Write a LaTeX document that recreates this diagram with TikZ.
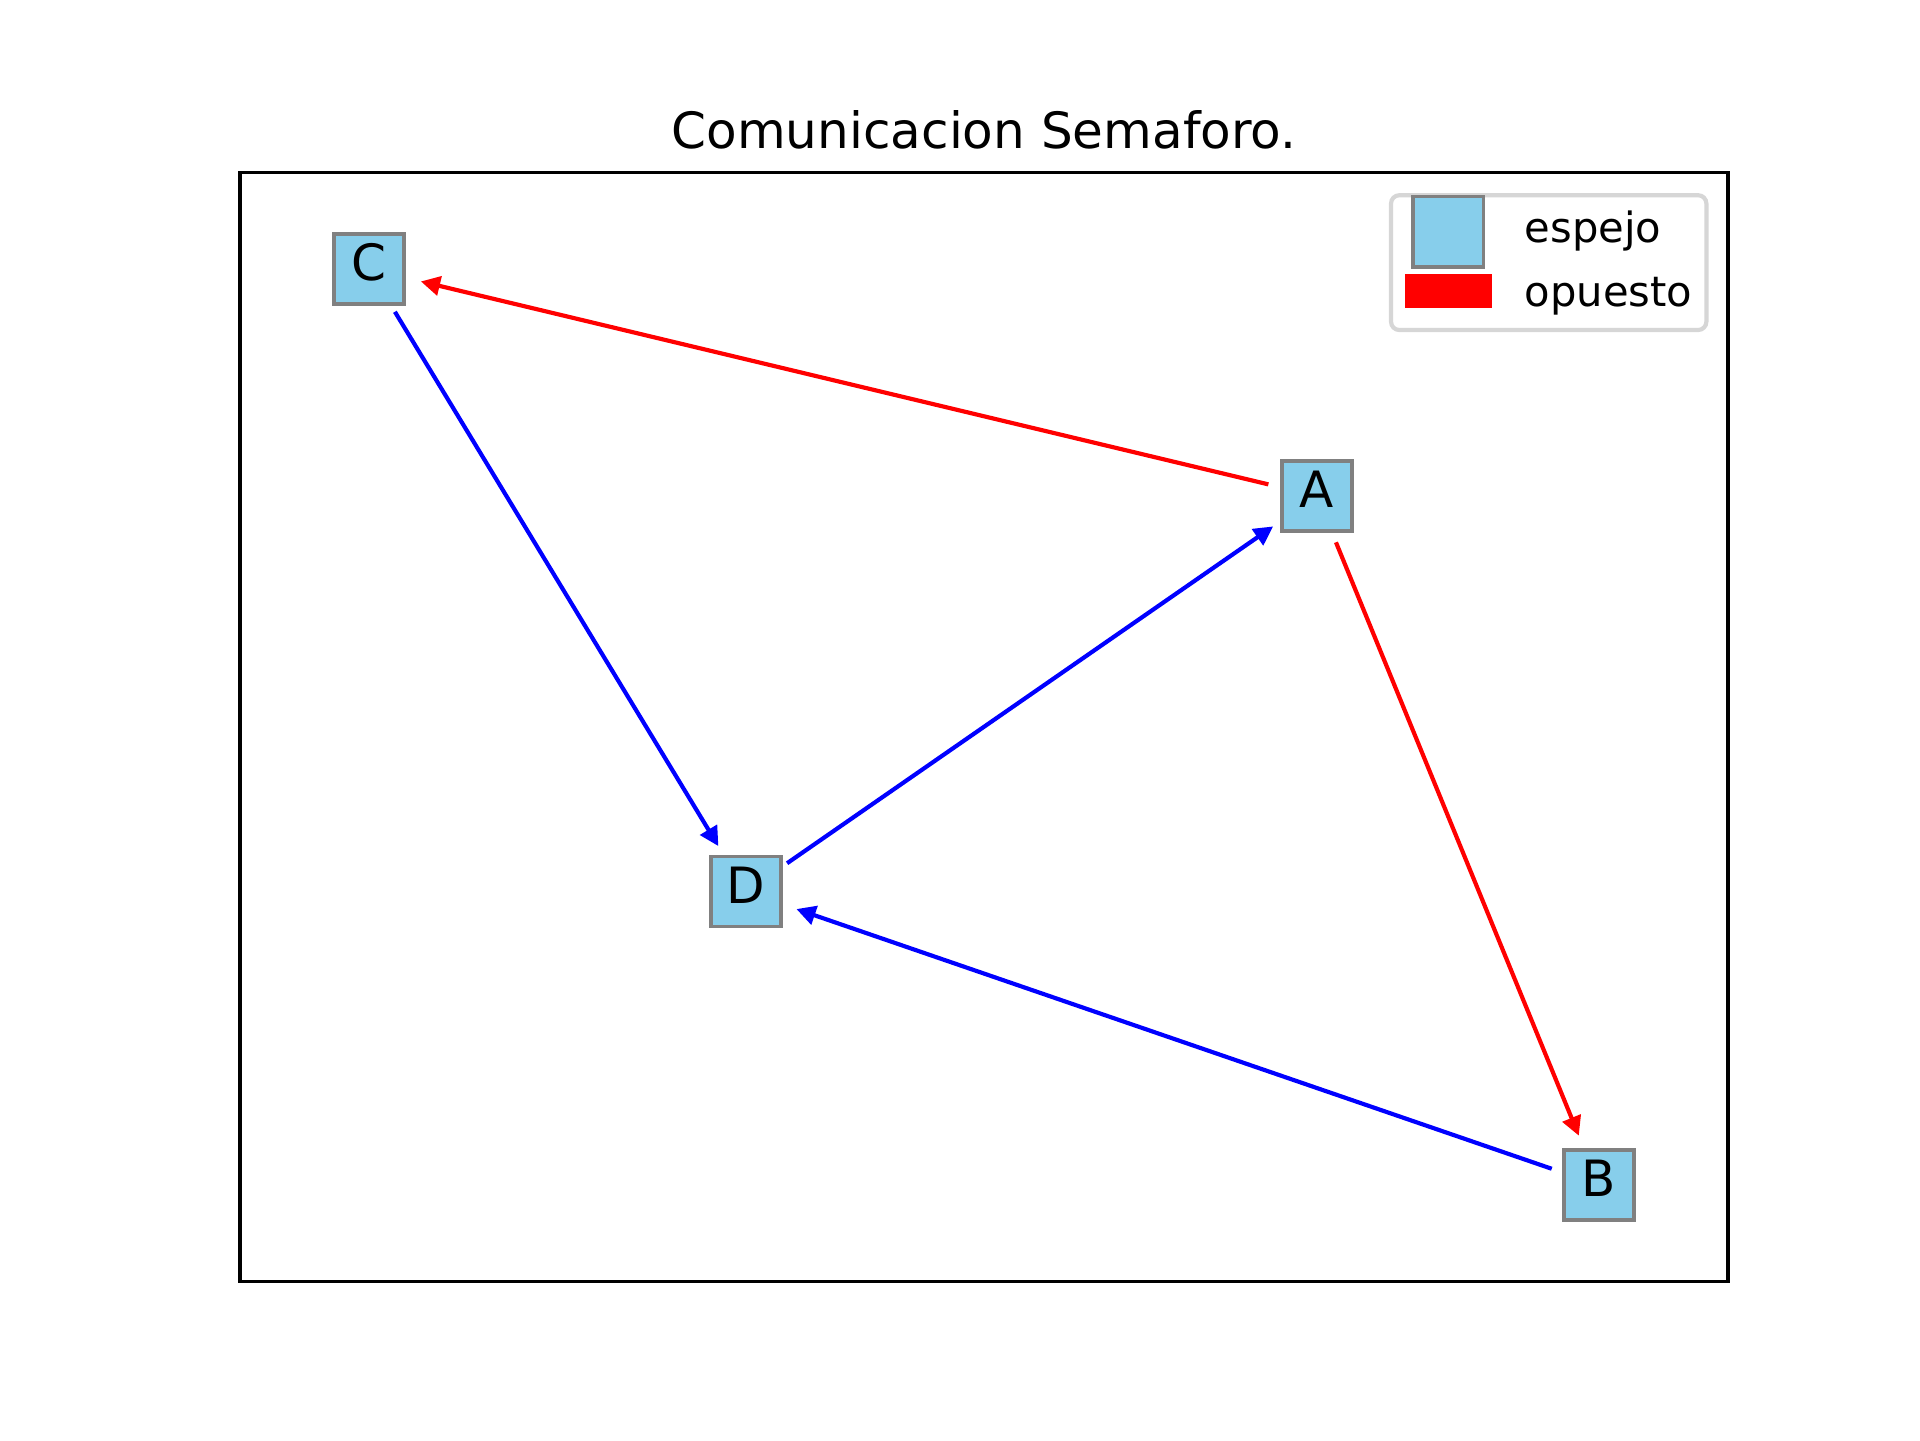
\documentclass[tikz,border=0pt]{standalone}
\usepackage{fontspec}
\setmainfont{DejaVu Sans}
\usetikzlibrary{arrows.meta}
\definecolor{skyblue}{HTML}{87CEEB}
\definecolor{nodeedge}{HTML}{808080}
\definecolor{legframe}{HTML}{D6D6D6}
\definecolor{edgered}{HTML}{FF0000}
\definecolor{edgeblue}{HTML}{0000FF}
\tikzset{
  vbox/.style={draw=nodeedge, fill=skyblue, line width=0.8bp, rectangle,
    minimum size=16.8bp, inner sep=0pt, text height=0.73em, text depth=0.16em,
    font=\fontsize{12.05}{14}\selectfont},
  edgeline/.style={line width=1bp, -{Triangle[length=4.6bp,width=4.6bp]},
    shorten <=12bp, shorten >=12.8bp},
  redline/.style={edgeline, draw=edgered, color=edgered},
  blueline/.style={edgeline, draw=edgeblue, color=edgeblue},
  legtext/.style={anchor=base west, inner sep=0pt, font=\fontsize{10.04}{12}\selectfont},
  legendframe/.style={draw=legframe, fill=white, line width=1bp, rounded corners=2bp},
  axesframe/.style={draw=black, line width=0.8bp}
}
\begin{document}
\begin{tikzpicture}[x=0.24bp, y=-0.24bp]
  \useasboundingbox (0,0) rectangle (1920,1440);
  % title
  \node[anchor=base, inner sep=0pt, font=\fontsize{12.05}{14}\selectfont] (title) at (984,148) {Comunicacion Semaforo.};
  % axes
  \draw[axesframe] (240,172.8) rectangle (1728,1281.6);
  % nodes
  \node[vbox] (C) at (369,269) {C};
  \node[vbox] (A) at (1317,496) {A};
  \node[vbox] (D) at (746,891.7) {D};
  \node[vbox] (B) at (1599,1185) {B};
  % edges
  \draw[redline] (A.center) -- (C.center);
  \draw[blueline] (C.center) -- (D.center);
  \draw[blueline] (D.center) -- (A.center);
  \draw[redline] (A.center) -- (B.center);
  \draw[blueline] (B.center) -- (D.center);
  % legend
  \draw[legendframe] (1391,195.2) rectangle (1706.4,330);
  \node[draw=nodeedge, fill=skyblue, line width=0.8bp, minimum size=16.97bp, inner sep=0pt] (legmirror) at (1448.2,231.7) {};
  \node[fill=edgered, minimum width=20.8bp, minimum height=8bp, inner sep=0pt] (legopp) at (1448.3,291) {};
  \node[legtext] (legmirrortext) at (1524,242) {espejo};
  \node[legtext] (legopptext) at (1524,306.5) {opuesto};
\end{tikzpicture}
\end{document}
